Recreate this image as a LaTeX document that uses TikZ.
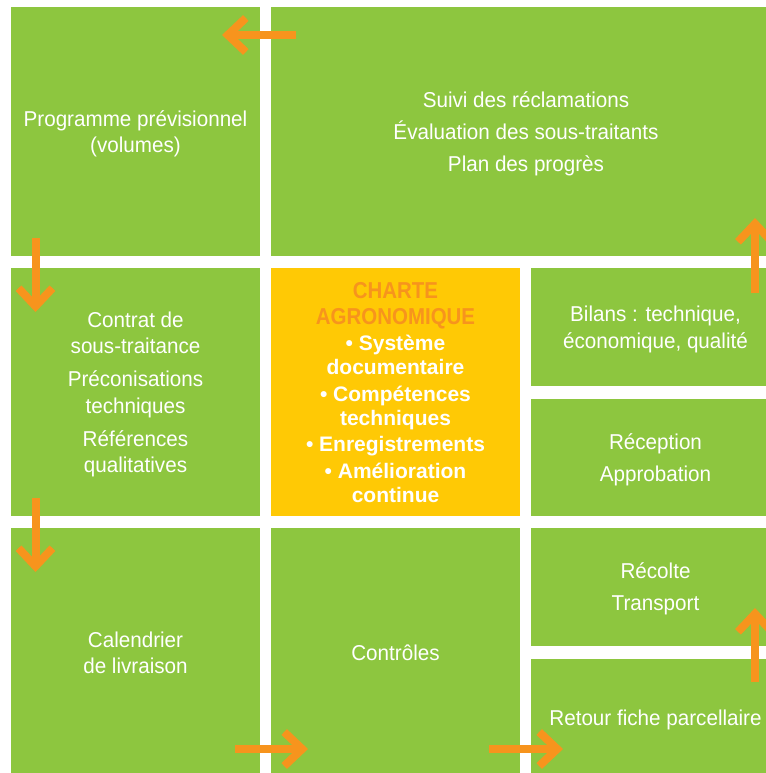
\documentclass[tikz,border=0pt]{standalone}
\usepackage{fontspec}
\setmainfont{Liberation Sans}[FakeStretch=0.96]
\newfontfamily\chartefont{Liberation Sans}[FakeStretch=0.89]
\newfontfamily\pointfont{Liberation Sans}
\usetikzlibrary{arrows.meta}

\definecolor{leafgreen}{HTML}{8DC63F}
\definecolor{chartyellow}{HTML}{FFC905}
\definecolor{floworange}{HTML}{F7941D}

\begin{document}
\begin{tikzpicture}[x=1pt, y=-1pt]
\useasboundingbox (0,0) rectangle (765,773);

\tikzset{BoxStyle/.style = {
 shape = rectangle,
 fill = leafgreen,
 text = white,
 anchor = north west,
 align = center,
 inner sep = 0pt,
 outer sep = 0pt,
 text depth = 0pt,
 minimum width = 249pt,
 font = \fontsize{21.5}{26.5}\selectfont} }

\tikzset{ArrowStyle/.style = {
 floworange,
 line width = 8pt,
 -{Straight Barb[length=18pt, width=34pt]}} }

% boxes
\node[BoxStyle, minimum height=249pt] (Prog) at (11,7)
 {Programme prévisionnel\\(volumes)};
\node[BoxStyle, minimum width=510pt, minimum height=249pt] (Suivi) at (271,7)
 {Suivi des réclamations\\[5.5pt]Évaluation des sous-traitants\\[5.5pt]Plan des progrès};
\node[BoxStyle, minimum height=248pt] (Contrat) at (11,268)
 {Contrat de\\sous-traitance\\[6.5pt]Préconisations\\techniques\\[6.5pt]Références\\qualitatives};
\node[BoxStyle, minimum height=248pt, fill=chartyellow,
 font=\pointfont\bfseries\fontsize{21}{24}\selectfont] (Charte) at (271,268)
 {\textcolor{floworange}{\chartefont\bfseries\fontsize{23}{24}\selectfont CHARTE}\\[2pt]
  \textcolor{floworange}{\chartefont\bfseries\fontsize{23}{24}\selectfont AGRONOMIQUE}\\[2.5pt]
  • Système\\documentaire\\[2.5pt]• Compétences\\techniques\\[2.5pt]
  • Enregistrements\\[2.5pt]• Amélioration\\continue};
\node[BoxStyle, minimum height=118pt] (Bilans) at (531,268)
 {Bilans : technique,\\économique, qualité};
\node[BoxStyle, minimum height=117pt] (Reception) at (531,399)
 {Réception\\[5.5pt]Approbation};
\node[BoxStyle, minimum height=249pt] (Calendrier) at (11,528)
 {Calendrier\\de livraison};
\node[BoxStyle, minimum height=249pt] (Controles) at (271,528)
 {Contrôles};
\node[BoxStyle, minimum height=118pt] (Recolte) at (531,528)
 {Récolte\\[5.5pt]Transport};
\node[BoxStyle, minimum height=118pt] (Retour) at (531,659)
 {Retour fiche parcellaire};

% arrow ends
\coordinate (A1_1) at (296,35);
\coordinate (A1_2) at (222,35);
\coordinate (A2_1) at (35.5,238);
\coordinate (A2_2) at (35.5,312);
\coordinate (A3_1) at (35.5,498);
\coordinate (A3_2) at (35.5,572);
\coordinate (A4_1) at (235,749);
\coordinate (A4_2) at (308,749);
\coordinate (A5_1) at (489,749);
\coordinate (A5_2) at (563,749);
\coordinate (A6_1) at (755,682);
\coordinate (A6_2) at (755,608);
\coordinate (A7_1) at (755,293);
\coordinate (A7_2) at (755,218);

\draw[ArrowStyle] (A1_1) -- (A1_2);
\draw[ArrowStyle] (A2_1) -- (A2_2);
\draw[ArrowStyle] (A3_1) -- (A3_2);
\draw[ArrowStyle] (A4_1) -- (A4_2);
\draw[ArrowStyle] (A5_1) -- (A5_2);
\draw[ArrowStyle] (A6_1) -- (A6_2);
\draw[ArrowStyle] (A7_1) -- (A7_2);

\end{tikzpicture}
\end{document}
